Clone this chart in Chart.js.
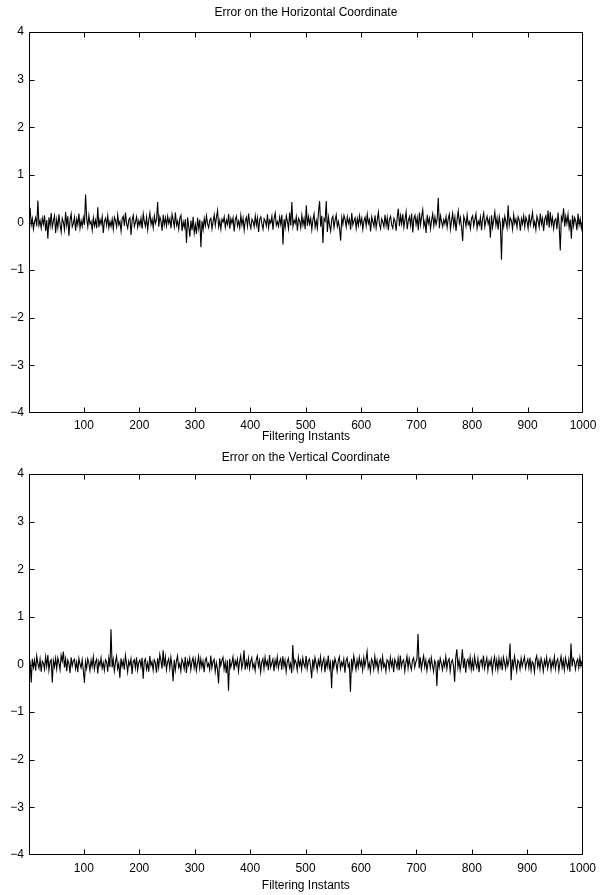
<!DOCTYPE html>
<html lang="en">
<head>
    <meta charset="UTF-8">
    <title>Filtering errors</title>
    <script src="https://cdnjs.cloudflare.com/ajax/libs/Chart.js/4.4.1/chart.umd.min.js"></script>
    <style>
        body { margin: 0; background: #fff; }
        .plot { position: absolute; left: 0; width: 602px; }
    </style>
</head>
<body>
    <div class="plot" id="boxH" style="top:0px;height:447px;"><canvas id="chartH"></canvas></div>
    <div class="plot" id="boxV" style="top:447px;height:448px;"><canvas id="chartV"></canvas></div>
    <script>
        // sampling of the filtering instants (every 2nd instant)
        var firstInstant = 1;
        var instantStep = 2;

        var xTicks = [100, 200, 300, 400, 500, 600, 700, 800, 900, 1000];
        var yTicks = [-4, -3, -2, -1, 0, 1, 2, 3, 4];

        var titleH = 'Error on the Horizontal Coordinate';
        var titleV = 'Error on the Vertical Coordinate';
        var xTitle = 'Filtering Instants';

        // error on the horizontal coordinate
        var errorH = [
            0.12,0.31,-0.05,0.08,-0.14,0.02,0.10,-0.08,0.46,-0.06,0.04,-0.12,0.09,-0.03,0.15,-0.18,0.05,-0.34,0.11,-0.07,0.20,-0.10,0.03,0.14,-0.22,
            0.06,-0.11,0.17,-0.04,-0.20,0.09,0.01,-0.15,0.22,-0.06,0.13,-0.28,0.05,0.18,-0.09,-0.02,0.11,-0.17,0.07,-0.05,0.19,-0.12,0.04,-0.08,0.10,
            -0.05,0.59,0.08,-0.09,0.15,-0.03,0.02,-0.16,0.10,-0.07,0.05,-0.12,0.32,-0.10,0.06,-0.04,0.12,-0.22,0.03,0.09,-0.06,0.14,-0.11,0.02,-0.08,
            0.07,-0.14,0.11,0.04,-0.09,0.16,-0.05,0.02,-0.18,0.08,0.13,-0.07,0.21,-0.03,-0.12,0.06,0.10,-0.26,0.05,0.15,-0.08,0.01,0.12,-0.10,0.04,
            -0.06,0.09,-0.13,0.18,0.02,-0.08,0.11,-0.15,0.05,0.20,-0.04,0.07,-0.11,0.14,-0.02,0.06,0.43,-0.09,0.12,0.03,-0.17,0.16,-0.05,0.10,-0.07,
            0.13,-0.02,0.08,-0.12,0.17,0.05,-0.09,0.21,-0.06,0.03,-0.14,0.09,0.15,-0.18,0.02,-0.10,0.07,-0.43,0.11,-0.08,-0.30,0.04,-0.16,0.12,-0.22,
            -0.05,-0.24,0.10,-0.12,0.06,-0.52,0.03,-0.15,0.08,-0.07,0.14,-0.03,-0.11,0.05,0.09,-0.13,0.02,0.16,-0.06,0.11,0.25,-0.09,0.04,-0.14,0.07,
            0.01,0.12,-0.10,0.05,-0.04,0.18,-0.13,0.08,-0.02,0.10,-0.19,0.06,0.13,-0.07,0.03,-0.11,0.15,-0.05,0.09,-0.16,0.04,0.11,-0.08,0.19,-0.03,
            -0.12,0.07,0.02,-0.09,0.14,-0.05,0.10,-0.20,0.06,0.12,-0.03,-0.14,0.08,0.03,-0.07,0.17,-0.11,0.05,-0.01,0.13,-0.15,0.09,0.20,-0.06,0.02,
            -0.08,0.11,-0.04,0.16,-0.46,0.07,-0.10,0.14,0.02,-0.13,0.21,-0.06,0.43,-0.08,0.05,-0.02,0.12,-0.17,0.09,0.04,-0.11,0.15,-0.05,0.08,-0.14,
            0.36,-0.07,0.12,-0.03,0.09,-0.15,0.06,0.18,-0.10,0.04,-0.12,0.22,0.45,-0.09,0.14,-0.43,0.08,0.03,0.45,-0.20,0.11,-0.06,-0.18,0.07,0.13,
            -0.11,0.05,0.16,-0.08,0.02,-0.13,-0.38,0.10,-0.04,0.15,0.06,-0.09,0.12,-0.02,0.07,-0.15,0.20,-0.05,0.03,0.10,-0.12,0.08,-0.06,0.14,-0.03,
            0.09,-0.14,0.04,0.11,-0.07,0.17,-0.02,0.06,-0.19,0.12,0.02,-0.08,0.15,-0.11,0.05,0.21,-0.04,-0.13,0.08,0.01,-0.09,0.16,-0.06,0.10,-0.16,
            0.07,0.13,-0.05,-0.12,0.09,0.03,-0.17,0.11,0.29,-0.08,0.14,-0.03,0.18,-0.10,0.06,0.22,-0.14,0.04,0.12,-0.06,0.19,-0.21,0.08,0.15,-0.04,
            0.10,-0.16,0.21,-0.05,0.13,0.27,-0.08,0.03,-0.22,0.16,-0.02,0.09,-0.13,0.05,0.18,-0.07,0.11,-0.04,0.07,0.52,-0.12,0.14,0.02,-0.09,0.06,
            -0.03,0.12,-0.10,0.08,0.17,-0.14,0.04,0.19,-0.06,0.11,-0.18,0.07,0.24,-0.02,0.10,-0.11,-0.39,0.13,0.05,-0.08,0.16,-0.04,0.02,-0.13,0.09,
            0.14,-0.07,0.06,0.18,-0.12,0.03,-0.05,0.11,-0.16,0.08,0.20,-0.09,0.04,0.13,-0.03,0.07,-0.32,0.15,-0.10,0.05,0.22,-0.06,0.09,-0.15,0.12,
            -0.04,-0.78,0.10,-0.08,0.13,0.02,-0.11,0.36,-0.06,0.09,0.04,-0.14,0.16,-0.02,0.07,-0.10,0.12,0.05,-0.17,0.08,-0.03,0.14,-0.09,0.11,0.03,
            -0.12,0.17,-0.05,0.06,0.21,-0.08,0.02,-0.15,0.13,0.04,-0.10,0.19,-0.03,0.09,-0.18,0.07,0.14,-0.06,0.25,-0.11,0.22,-0.04,0.10,-0.13,0.05,
            0.08,-0.14,0.21,-0.06,-0.59,0.12,0.04,0.30,-0.09,0.13,-0.02,0.17,-0.11,0.06,-0.34,0.15,-0.07,0.10,0.03,-0.16,0.19,-0.05,0.08,-0.12,0.04
        ];

        // error on the vertical coordinate
        var errorV = [
            0.15,0.05,-0.38,0.12,-0.06,0.09,-0.13,0.18,0.02,-0.08,0.11,-0.15,0.07,0.03,-0.10,0.16,-0.04,0.20,-0.12,0.06,0.10,-0.38,0.08,-0.05,0.13,
            -0.09,0.14,0.04,-0.11,0.19,0.07,0.27,-0.06,0.12,-0.14,0.09,0.02,-0.18,0.15,-0.03,0.08,0.11,-0.09,0.05,-0.16,0.13,0.01,-0.07,0.10,-0.12,
            -0.38,0.06,-0.08,0.12,0.03,-0.13,0.09,-0.04,0.16,-0.10,0.05,0.11,-0.19,0.07,-0.02,0.14,-0.08,0.04,-0.12,0.10,0.06,-0.15,0.13,-0.05,0.74,
            -0.06,0.11,-0.14,0.05,0.17,-0.09,0.02,-0.28,0.13,-0.04,0.08,-0.11,0.19,0.03,-0.16,0.07,-0.02,0.12,-0.20,0.06,0.10,-0.07,0.15,-0.12,0.04,
            0.09,-0.05,0.14,-0.30,0.07,0.12,-0.10,0.03,-0.15,0.18,-0.02,0.06,-0.12,0.10,0.04,-0.17,0.13,-0.06,0.21,0.08,-0.09,0.30,-0.04,0.16,-0.11,
            0.05,0.12,-0.08,0.15,-0.03,-0.35,0.10,-0.12,0.07,0.18,-0.06,0.02,-0.14,0.11,0.04,-0.09,0.16,-0.18,0.08,-0.02,0.13,-0.11,0.06,0.14,-0.07,
            0.10,-0.13,0.03,0.17,-0.08,0.12,-0.05,0.07,-0.16,0.09,0.14,-0.04,0.02,-0.11,0.19,-0.07,0.06,0.11,-0.15,0.04,-0.09,-0.40,0.13,-0.03,0.08,
            0.15,-0.10,0.05,-0.18,0.09,-0.55,0.12,-0.06,0.03,0.16,-0.12,0.08,-0.02,0.11,-0.14,0.06,0.18,-0.08,0.04,0.30,-0.11,0.07,-0.05,0.13,-0.09,
            0.06,0.14,-0.07,0.02,-0.13,0.10,0.18,-0.04,0.08,-0.16,0.05,0.12,-0.09,0.15,-0.02,0.07,-0.12,0.20,-0.06,0.03,0.11,-0.14,0.09,-0.03,0.16,
            -0.08,0.05,0.12,-0.11,0.17,-0.04,0.09,-0.15,0.06,0.13,-0.07,0.02,-0.18,0.41,-0.05,0.10,0.04,-0.12,0.15,-0.03,0.08,-0.10,0.14,0.01,-0.06,
            0.18,-0.09,0.07,0.12,-0.04,-0.29,0.11,-0.07,0.15,0.03,-0.12,0.09,-0.02,0.16,-0.10,0.05,0.13,-0.16,0.07,-0.05,0.19,-0.08,0.04,-0.50,0.10,
            -0.06,0.13,0.03,-0.14,0.08,0.16,-0.09,0.05,-0.03,0.11,-0.17,0.07,0.14,-0.05,0.02,-0.57,0.12,-0.08,0.18,0.04,-0.11,0.09,-0.06,0.15,-0.02,
            0.08,-0.12,0.14,-0.04,0.10,0.27,-0.07,0.03,-0.15,0.12,0.06,-0.10,0.17,-0.03,0.09,-0.13,0.05,0.11,-0.08,0.16,-0.05,0.02,-0.14,0.10,0.07,
            -0.09,0.15,-0.03,0.08,-0.16,0.11,0.04,-0.07,0.13,-0.12,0.19,-0.05,0.06,0.10,-0.14,0.03,0.17,-0.08,0.12,-0.02,-0.11,0.09,0.14,-0.06,0.05,
            0.12,0.64,-0.08,0.15,-0.10,0.06,0.18,-0.05,0.09,-0.13,0.04,0.11,-0.07,0.14,-0.02,-0.15,0.08,0.03,-0.45,0.10,-0.06,0.13,0.02,-0.11,0.07,
            -0.04,0.16,-0.09,0.07,0.12,-0.14,0.05,0.10,-0.03,-0.36,0.14,0.32,-0.06,0.09,-0.12,0.04,0.32,-0.08,0.13,-0.17,0.06,0.11,-0.05,0.15,-0.10,
            0.08,-0.13,0.17,0.02,-0.07,0.12,-0.16,0.06,0.10,-0.04,0.19,-0.09,0.03,0.14,-0.12,0.07,-0.02,0.11,-0.15,0.05,0.16,-0.08,0.09,-0.11,0.13,
            -0.05,0.10,-0.12,0.15,0.04,-0.09,0.12,-0.03,0.08,0.44,-0.33,0.11,-0.06,0.17,0.02,-0.14,0.09,0.05,-0.10,0.13,-0.04,0.07,0.16,-0.08,0.03,
            0.11,-0.07,0.14,-0.12,0.06,0.02,-0.16,0.10,0.18,-0.05,0.08,-0.10,0.13,0.03,-0.14,0.09,-0.02,0.15,-0.08,0.05,0.12,-0.11,0.07,-0.04,0.16,
            -0.09,0.06,0.12,-0.13,0.04,0.17,-0.06,0.09,-0.11,0.14,0.02,-0.08,0.10,-0.15,0.44,-0.04,0.13,0.07,-0.10,0.05,0.11,-0.07,0.15,-0.03,0.08
        ];

        Chart.defaults.font.family = "'Liberation Sans', Arial, Helvetica, sans-serif";
        Chart.defaults.font.size = 12;
        Chart.defaults.color = '#000';

        function toPoints(values) {
            var pts = [];
            for (var i = 0; i < values.length; i++) {
                pts.push({x: firstInstant + i * instantStep, y: values[i]});
            }
            return pts;
        }

        // matlab style box with inward ticks on all four sides, title centred over the axes
        var boxPlugin = {
            id: 'matlabBox',
            afterDraw: function (chart, args, opts) {
                var ctx = chart.ctx;
                var a = chart.chartArea;
                var xs = chart.scales.x, ys = chart.scales.y;
                var L = Math.round(a.left) + 0.5, R = Math.round(a.right) - 0.5;
                var T = Math.round(a.top) + 0.5, B = Math.round(a.bottom) - 0.5;
                var len = 5;
                ctx.save();
                ctx.strokeStyle = '#000';
                ctx.lineWidth = 1;
                ctx.beginPath();
                ctx.rect(L, T, R - L, B - T);
                xs.ticks.forEach(function (t) {
                    var px = Math.min(R, Math.round(xs.getPixelForValue(t.value)) + 0.5);
                    ctx.moveTo(px, B); ctx.lineTo(px, B - len);
                    ctx.moveTo(px, T); ctx.lineTo(px, T + len);
                });
                ys.ticks.forEach(function (t) {
                    var py = Math.max(T, Math.min(B, Math.round(ys.getPixelForValue(t.value)) + 0.5));
                    ctx.moveTo(L, py); ctx.lineTo(L + len, py);
                    ctx.moveTo(R, py); ctx.lineTo(R - len, py);
                });
                ctx.stroke();

                ctx.fillStyle = '#000';
                ctx.font = "12px 'Liberation Sans', Arial, sans-serif";
                ctx.textAlign = 'center';
                ctx.textBaseline = 'middle';
                ctx.fillText(opts.text, (a.left + a.right) / 2, opts.y);
                ctx.restore();
            }
        };

        function makeChart(id, values, title, titleY, plotTop, xHeight, xTickPad, xTitlePad) {
            return new Chart(document.getElementById(id), {
                type: 'line',
                data: {
                    datasets: [{
                        data: toPoints(values),
                        borderColor: '#000',
                        borderWidth: 1.1,
                        pointRadius: 0,
                        tension: 0,
                        fill: false
                    }]
                },
                options: {
                    responsive: true,
                    maintainAspectRatio: false,
                    animation: false,
                    layout: { padding: { left: 0, right: 19, top: plotTop, bottom: 0 } },
                    plugins: {
                        legend: { display: false },
                        tooltip: { enabled: false },
                        title: { display: false },
                        matlabBox: { text: title, y: titleY }
                    },
                    scales: {
                        x: {
                            type: 'linear',
                            min: 1,
                            max: 1000,
                            afterBuildTicks: function (scale) {
                                scale.ticks = xTicks.map(function (v) { return {value: v}; });
                            },
                            afterFit: function (scale) { scale.height = xHeight; },
                            grid: { display: false, drawTicks: false },
                            border: { display: false },
                            ticks: {
                                padding: xTickPad, maxRotation: 0, autoSkip: false,
                                callback: function (v) { return String(v); }
                            },
                            title: { display: true, text: xTitle, padding: { top: 0, bottom: xTitlePad } }
                        },
                        y: {
                            min: -4,
                            max: 4,
                            afterBuildTicks: function (scale) {
                                scale.ticks = yTicks.map(function (v) { return {value: v}; });
                            },
                            afterFit: function (scale) { scale.width = 29; },
                            grid: { display: false, drawTicks: false },
                            border: { display: false },
                            ticks: {
                                padding: 5,
                                callback: function (v) { return v < 0 ? '\u2212' + Math.abs(v) : String(v); }
                            }
                        }
                    }
                },
                plugins: [boxPlugin]
            });
        }

        makeChart('chartH', errorH, titleH, 13, 32, 34, 5, 3);
        makeChart('chartV', errorV, titleV, 11, 27, 40, 6, 2);
    </script>
</body>
</html>
